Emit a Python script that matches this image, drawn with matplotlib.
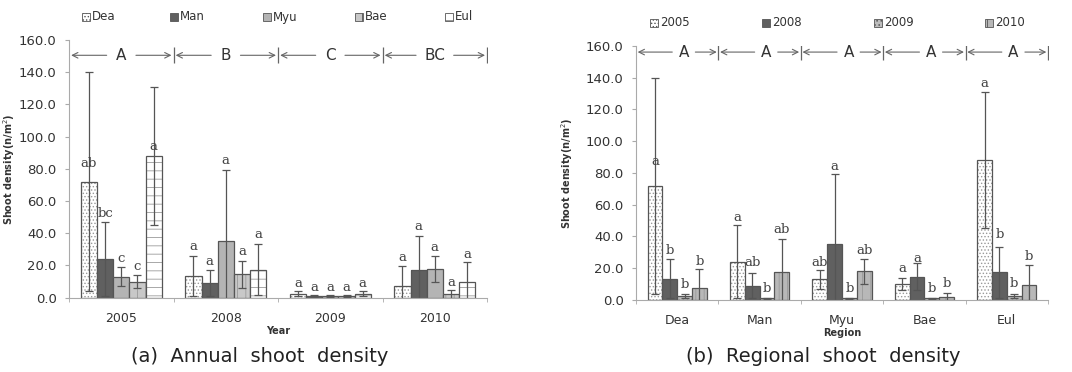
import matplotlib
matplotlib.use("Agg")
import matplotlib.pyplot as plt
from matplotlib.patches import Rectangle
import numpy as np

plt.rcParams["font.family"] = "DejaVu Sans"
plt.rcParams["hatch.linewidth"] = 0.6

# ── Data ──────────────────────────────────────────────────────────────────────
YEARS = ["2005", "2008", "2009", "2010"]
REGIONS = ["Dea", "Man", "Myu", "Bae", "Eul"]

# mean shoot density, rows = year, cols = region
MEAN = np.array([
    [72.0, 24.0, 13.0, 10.0, 88.0],
    [13.5, 9.0, 35.0, 14.5, 17.5],
    [2.5, 1.0, 1.0, 1.0, 2.5],
    [7.5, 17.5, 18.0, 2.0, 9.5],
])
ERR = np.array([
    [68.0, 23.0, 6.0, 4.0, 43.0],
    [12.5, 8.0, 44.0, 8.5, 16.0],
    [1.5, 0.5, 0.5, 0.5, 1.5],
    [12.0, 21.0, 8.0, 2.5, 12.5],
])

# significance letters, panel (a): rows = year, cols = region
LETTERS_A = [["ab", "bc", "c", "c", "a"],
             ["a", "a", "a", "a", "a"],
             ["a", "a", "a", "a", "a"],
             ["a", "a", "a", "a", "a"]]
LETTER_Y_A = [[79, 48.5, 20.5, 15.5, 90],
              [27.5, 18.5, 81, 24.5, 35],
              [5, 2.5, 2.5, 2.5, 5],
              [21, 40, 27, 5.5, 22.5]]
GROUP_A = ["A", "B", "C", "BC"]

# panel (b): rows = region, cols = year
LETTERS_B = [["a", "b", "b", "b"],
             ["a", "ab", "b", "ab"],
             ["ab", "a", "b", "ab"],
             ["a", "a", "b", "b"],
             ["a", "b", "b", "b"]]
LETTER_Y_B = [[83, 27, 5.5, 20],
              [48, 19.5, 3, 40],
              [19.5, 80, 3, 27],
              [16, 22, 3, 6.5],
              [132, 37, 6.5, 23]]
GROUP_B = ["A", "A", "A", "A", "A"]

# bar styles (face, hatch)
REGION_STYLE = [("white", "....."), ("#606060", ""), ("#b4b4b4", ""),
                ("#c8c8c8", "||"), ("white", "--")]
YEAR_STYLE = [("white", "....."), ("#606060", ""), ("#bdbdbd", "...."),
              ("#b8b8b8", "||")]

EDGE = "#555555"
GRID = "#aaaaaa"


def draw_bars(ax, means, errs, styles, width):
    n_cat, n_ser = means.shape
    x = np.arange(n_cat)
    for j in range(n_ser):
        face, hatch = styles[j]
        xs = x + (j - (n_ser - 1) / 2) * width
        ax.bar(xs, means[:, j], width, color=face, hatch=hatch,
               edgecolor="#9a9a9a", linewidth=0)
        ax.bar(xs, means[:, j], width, fill=False, edgecolor=EDGE, linewidth=0.9)
        ax.errorbar(xs, means[:, j], yerr=errs[:, j], fmt="none",
                    ecolor="#555555", elinewidth=0.9, capsize=3, capthick=0.9)


def draw_letters(ax, letters, ys, n_ser, width):
    for i, row in enumerate(letters):
        for j, lab in enumerate(row):
            xs = i + (j - (n_ser - 1) / 2) * width
            ax.text(xs, ys[i][j], lab, ha="center", va="bottom",
                    fontsize=9.5, family="DejaVu Serif", color="#444444")


def draw_groups(ax, labels, y, shift=0.0):
    for i, lab in enumerate(labels):
        lo, hi = i - 0.5, i + 0.5
        c = i + shift
        gap = 0.10 + 0.04 * len(lab)
        ax.text(c, y, lab, ha="center", va="center", fontsize=11, color="#333333")
        ax.annotate("", xy=(lo + 0.02, y), xytext=(c - gap, y),
                    arrowprops=dict(arrowstyle="->", color="#666666", lw=0.8,
                                    shrinkA=0, shrinkB=0))
        ax.annotate("", xy=(hi - 0.02, y), xytext=(c + gap, y),
                    arrowprops=dict(arrowstyle="->", color="#666666", lw=0.8,
                                    shrinkA=0, shrinkB=0))
        ax.plot([hi], [y], marker="|", ms=11, mew=0.9, color="#666666")


def draw_legend(fig, labels, styles, xs_px, y_px):
    # hand-placed legend keys, spaced like the original
    W, H = 1072, 372
    s = 8
    for lab, (face, hatch), x in zip(labels, styles, xs_px):
        fig.add_artist(Rectangle((x / W, 1 - (y_px + s / 2) / H), s / W, s / H,
                                 facecolor=face, hatch=hatch, edgecolor=EDGE,
                                 linewidth=0.6, transform=fig.transFigure))
        fig.text((x + s + 2) / W, 1 - y_px / H, lab, ha="left", va="center",
                 fontsize=8.5, color="#333333")


def style_axes(ax, cats, xlabel, label_x):
    n = len(cats)
    ax.set_xlim(-0.5, n - 0.5)
    ax.set_ylim(0, 160)
    ax.set_yticks(np.arange(0, 161, 20))
    ax.set_yticklabels([f"{v:.1f}" for v in np.arange(0, 161, 20)])
    ax.set_xticks(np.arange(n))
    ax.set_xticklabels(cats)
    ax.set_xticks(np.arange(n + 1) - 0.5, minor=True)
    ax.tick_params(axis="x", which="major", length=0, pad=10, labelsize=9,
                   labelcolor="#333333")
    ax.tick_params(axis="x", which="minor", length=3, color=GRID)
    ax.tick_params(axis="y", length=3, color=GRID, labelsize=9.5,
                   labelcolor="#333333", pad=6)
    ax.spines[["top", "right"]].set_visible(False)
    ax.spines[["left", "bottom"]].set_color(GRID)
    ax.set_ylabel("Shoot density(n/m$^2$)", fontsize=7, fontweight="bold",
                  color="#333333")
    ax.set_xlabel(xlabel, fontsize=7, fontweight="bold", color="#333333")
    ax.yaxis.set_label_coords(label_x, 0.5)
    ax.xaxis.set_label_coords(0.5, -0.11)


fig = plt.figure(figsize=(10.72, 3.72), dpi=100)

# ── (a) Annual ────────────────────────────────────────────────────────────────
ax1 = fig.add_axes([0.0644, 0.1997, 0.390, 0.6928])
w1 = 0.155
draw_bars(ax1, MEAN, ERR, REGION_STYLE, w1)
draw_letters(ax1, LETTERS_A, LETTER_Y_A, len(REGIONS), w1)
draw_groups(ax1, GROUP_A, 150.5)
style_axes(ax1, YEARS, "Year", -0.124)
draw_legend(fig, REGIONS, REGION_STYLE, [82, 170, 263, 355, 445], 17)

# ── (b) Regional ──────────────────────────────────────────────────────────────
ax2 = fig.add_axes([0.5933, 0.1935, 0.3843, 0.6836])
w2 = 0.18
draw_bars(ax2, MEAN.T, ERR.T, YEAR_STYLE, w2)
draw_letters(ax2, LETTERS_B, LETTER_Y_B, len(YEARS), w2)
draw_groups(ax2, GROUP_B, 156, shift=0.08)
style_axes(ax2, REGIONS, "Region", -0.148)
draw_legend(fig, YEARS, YEAR_STYLE, [650, 762, 874, 985], 23)

fig.text(260 / 1072, 1 - 357 / 372, "(a)  Annual  shoot  density", ha="center",
         va="center", fontsize=14, color="#222222")
fig.text(823 / 1072, 1 - 357 / 372, "(b)  Regional  shoot  density", ha="center",
         va="center", fontsize=14, color="#222222")

fig.savefig("out.png", dpi=100)
plt.close()
